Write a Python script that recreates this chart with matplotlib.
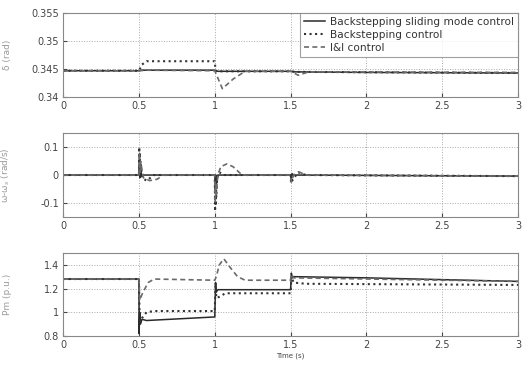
import matplotlib
matplotlib.use("Agg")
import matplotlib.pyplot as plt

# ---------------- data ----------------
labels = ["Backstepping sliding mode control", "Backstepping control", "I&I control"]

# rotor angle delta (rad)
t_d_smc = [0, 0.5, 0.52, 1.0, 1.02, 1.5, 1.53, 2.0, 3.0]
d_smc = [0.3447, 0.3447, 0.3448, 0.3448, 0.3446, 0.3446, 0.3445, 0.3444, 0.3443]
t_d_bs = [0, 0.5, 0.52, 0.55, 1.0, 1.005, 1.02, 1.5, 1.53, 3.0]
d_bs = [0.3447, 0.3447, 0.3458, 0.3464, 0.3464, 0.3447, 0.3446, 0.3446, 0.3445, 0.3443]
t_d_ii = [0, 0.5, 0.55, 1.0, 1.05, 1.12, 1.2, 1.5, 1.55, 1.62, 3.0]
d_ii = [0.3447, 0.3447, 0.3448, 0.3447, 0.3415, 0.3432, 0.3446, 0.3446, 0.3439, 0.3445, 0.3444]

# speed deviation w - ws (rad/s)
t_w_smc = [0, 0.5, 0.503, 0.506, 0.51, 0.52, 0.53, 1.0, 1.004, 1.008, 1.012, 1.02, 1.5, 1.505, 1.51, 1.52, 3.0]
w_smc = [0, 0, 0.04, -0.01, 0.02, -0.005, 0, 0, -0.06, 0.0, -0.03, 0, 0, -0.015, 0.005, 0, -0.004]
t_w_bs = [0, 0.5, 0.502, 0.504, 0.506, 0.508, 0.51, 0.52, 0.55, 0.6, 1.0, 1.002, 1.004, 1.006, 1.008,
          1.01, 1.015, 1.03, 1.06, 1.5, 1.503, 1.506, 1.51, 1.55, 1.6, 3.0]
w_bs = [0, 0, 0.1, 0.02, 0.08, 0.0, 0.05, -0.01, -0.02, 0, 0, -0.13, -0.02, -0.11, -0.03,
        -0.08, -0.01, 0.01, 0, 0, -0.03, 0.0, -0.02, 0.01, 0, -0.004]
t_w_ii = [0, 0.5, 0.503, 0.507, 0.51, 0.53, 0.57, 0.62, 0.66, 1.0, 1.003, 1.006, 1.01, 1.02,
          1.04, 1.08, 1.12, 1.15, 1.18, 1.5, 1.505, 1.52, 1.56, 1.6, 3.0]
w_ii = [0, 0, 0.08, 0.01, 0.05, -0.01, -0.02, -0.015, 0, 0, -0.1, -0.03, -0.07, 0.0,
        0.03, 0.04, 0.03, 0.015, 0, 0, -0.025, 0.0, 0.01, 0, -0.004]

# mechanical power Pm (p.u.)
t_p_smc = [0, 0.5, 0.501, 0.505, 0.51, 0.52, 0.55, 1.0, 1.005, 1.01, 1.02, 1.5, 1.505, 1.51, 1.52, 2.0, 3.0]
p_smc = [1.28, 1.28, 0.82, 1.0, 0.9, 0.94, 0.93, 0.96, 1.25, 1.17, 1.19, 1.19, 1.33, 1.29, 1.30, 1.29, 1.26]
t_p_bs = [0, 0.5, 0.505, 0.52, 0.55, 0.6, 1.0, 1.005, 1.01, 1.03, 1.07, 1.5, 1.505, 1.52, 1.6, 3.0]
p_bs = [1.28, 1.28, 0.9, 0.95, 1.0, 1.01, 1.01, 1.25, 1.12, 1.13, 1.16, 1.16, 1.30, 1.25, 1.24, 1.23]
t_p_ii = [0, 0.5, 0.505, 0.52, 0.56, 0.6, 1.0, 1.01, 1.03, 1.06, 1.1, 1.15, 1.2, 1.5, 1.505, 1.52, 3.0]
p_ii = [1.28, 1.28, 1.1, 1.15, 1.25, 1.28, 1.27, 1.3, 1.4, 1.45, 1.38, 1.30, 1.27, 1.27, 1.32, 1.29, 1.26]

x_ticks = [0, 0.5, 1, 1.5, 2, 2.5, 3]
x_ticklabels = ["0", "0.5", "1", "1.5", "2", "2.5", "3"]
d_ticks = [0.34, 0.345, 0.35, 0.355]
d_ticklabels = ["0.34", "0.345", "0.35", "0.355"]
w_ticks = [-0.1, 0, 0.1]
w_ticklabels = ["-0.1", "0", "0.1"]
p_ticks = [0.8, 1.0, 1.2, 1.4]
p_ticklabels = ["0.8", "1", "1.2", "1.4"]

# ---------------- figure ----------------
fig = plt.figure(figsize=(5.26, 3.72), dpi=100)
fig.patch.set_facecolor("white")

rects = [
    [0.120, 0.739, 0.865, 0.226],
    [0.120, 0.417, 0.865, 0.225],
    [0.120, 0.097, 0.865, 0.223],
]
axes = [fig.add_axes(r) for r in rects]

c_smc, c_bs, c_ii = "#2a2a2a", "#333333", "#6a6a6a"
tick_c = "#444444"
lab_c = "#9a9a9a"

datasets = [
    ((t_d_smc, d_smc), (t_d_bs, d_bs), (t_d_ii, d_ii), (0.34, 0.355), d_ticks, d_ticklabels, "δ (rad)"),
    ((t_w_smc, w_smc), (t_w_bs, w_bs), (t_w_ii, w_ii), (-0.15, 0.15), w_ticks, w_ticklabels, "ω-ω$_s$ (rad/s)"),
    ((t_p_smc, p_smc), (t_p_bs, p_bs), (t_p_ii, p_ii), (0.8, 1.5), p_ticks, p_ticklabels, "Pm (p.u.)"),
]

for ax, (s1, s2, s3, yl, yt, ytl, ylab) in zip(axes, datasets):
    ax.plot(*s1, color=c_smc, lw=1.1, ls="-", label=labels[0])
    ax.plot(*s2, color=c_bs, lw=1.5, ls=":", label=labels[1])
    ax.plot(*s3, color=c_ii, lw=1.2, ls="--", dashes=(3, 2), label=labels[2])
    ax.set_xlim(0, 3)
    ax.set_ylim(*yl)
    ax.set_xticks(x_ticks)
    ax.set_xticklabels(x_ticklabels)
    ax.set_yticks(yt)
    ax.set_yticklabels(ytl)
    ax.grid(True, ls=":", color="#aaaaaa", lw=0.7)
    ax.tick_params(direction="in", labelsize=7, colors=tick_c, length=3, pad=3)
    for sp in ax.spines.values():
        sp.set_color("#888888")
        sp.set_linewidth(0.8)
    ax.set_ylabel(ylab, fontsize=6.5, color=lab_c)
    ax.yaxis.set_label_coords(-0.112, 0.5)

axes[2].set_xlabel("Time (s)", fontsize=5, color=tick_c, labelpad=2)

leg = axes[0].legend(loc="upper right", fontsize=7.6, frameon=True, fancybox=False,
                     borderaxespad=0.0, handlelength=2.0, handletextpad=0.5,
                     borderpad=0.35, labelspacing=0.3)
leg.get_frame().set_edgecolor("#888888")
leg.get_frame().set_linewidth(0.8)
for txt in leg.get_texts():
    txt.set_color("#333333")

fig.savefig("out.png", dpi=100, facecolor="white")
